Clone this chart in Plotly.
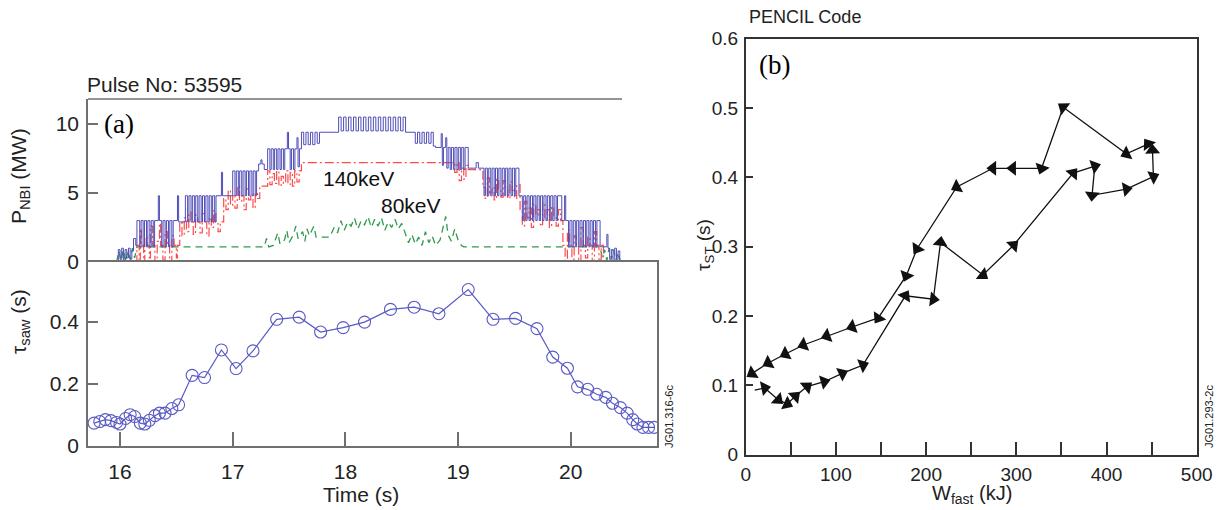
import plotly.graph_objects as go

# ---------------- Panel (a) top: NBI power (MW) vs time (s) ----------------
blue_pts = [
    (15.97, 0.0), (15.985, 0.9), (16.0, 0.2), (16.015, 1.0), (16.03, 0.1), (16.045, 0.9),
    (16.06, 0.3), (16.075, 1.0), (16.09, 0.2), (16.105, 0.8), (16.12, 1.7), (16.14, 1.2),
    (16.15, 3.0), (16.175, 1.1), (16.187, 3.0), (16.205, 1.1), (16.217, 3.0), (16.235, 1.1),
    (16.247, 3.0), (16.265, 1.1), (16.277, 3.0), (16.295, 1.1), (16.307, 3.0), (16.34, 4.8),
    (16.35, 3.0), (16.37, 1.1), (16.382, 3.0), (16.40, 1.1), (16.412, 3.0), (16.43, 1.1),
    (16.442, 3.0), (16.46, 1.1), (16.472, 3.0), (16.51, 4.8), (16.52, 2.9), (16.58, 4.8),
    (16.60, 2.9), (16.612, 4.8), (16.63, 2.9), (16.642, 4.8), (16.66, 2.9), (16.672, 4.8),
    (16.69, 2.9), (16.702, 4.8), (16.72, 2.9), (16.732, 4.8), (16.75, 2.9), (16.762, 4.8),
    (16.78, 2.9), (16.792, 4.8), (16.81, 2.9), (16.822, 4.8), (16.84, 2.9), (16.852, 4.8),
    (16.90, 6.5), (16.91, 4.8), (17.0, 6.6), (17.02, 4.8), (17.032, 6.6), (17.05, 4.8),
    (17.062, 6.6), (17.08, 4.8), (17.092, 6.6), (17.11, 4.8), (17.122, 6.6), (17.14, 4.8),
    (17.152, 6.6), (17.17, 4.8), (17.182, 6.6), (17.20, 4.8), (17.212, 6.6), (17.23, 7.1),
    (17.25, 7.4), (17.26, 7.1), (17.28, 6.7), (17.31, 8.2), (17.33, 6.7), (17.342, 8.2),
    (17.36, 6.7), (17.372, 8.2), (17.39, 6.7), (17.402, 8.2), (17.42, 6.7), (17.432, 8.2),
    (17.45, 6.7), (17.462, 8.2), (17.485, 9.4), (17.495, 8.2), (17.51, 6.7), (17.522, 8.2),
    (17.54, 6.7), (17.552, 8.2), (17.57, 9.0), (17.58, 6.9), (17.592, 8.2), (17.61, 9.4),
    (17.63, 8.5), (17.65, 9.4), (17.67, 8.5), (17.69, 9.4), (17.71, 8.5), (17.73, 9.4),
    (17.75, 8.6), (17.77, 9.4), (17.94, 10.5), (17.962, 9.5), (17.984, 10.5), (18.006, 9.5),
    (18.028, 10.5), (18.05, 9.5), (18.072, 10.5), (18.094, 9.5), (18.116, 10.5), (18.138, 9.5),
    (18.16, 10.5), (18.182, 9.5), (18.204, 10.5), (18.226, 9.5), (18.248, 10.5), (18.27, 9.5),
    (18.292, 10.5), (18.314, 9.5), (18.336, 10.5), (18.358, 9.5), (18.38, 10.5), (18.402, 9.5),
    (18.424, 10.5), (18.446, 9.5), (18.468, 10.5), (18.49, 9.5), (18.512, 10.5), (18.534, 9.4),
    (18.62, 8.6), (18.64, 9.4), (18.66, 8.6), (18.68, 9.4), (18.70, 8.6), (18.72, 9.4),
    (18.74, 8.6), (18.76, 9.4), (18.78, 8.4), (18.80, 8.3), (18.85, 9.3), (18.86, 7.0),
    (18.87, 8.3), (18.89, 9.0), (18.90, 6.8), (18.912, 8.3), (18.93, 6.7), (18.942, 8.3),
    (18.96, 6.7), (18.972, 8.3), (18.99, 6.7), (19.002, 8.3), (19.02, 6.7), (19.032, 8.3),
    (19.05, 6.7), (19.062, 8.3), (19.09, 6.8), (19.16, 7.2), (19.18, 6.8), (19.23, 4.8),
    (19.242, 6.8), (19.26, 4.8), (19.272, 6.8), (19.29, 4.8), (19.302, 6.8), (19.32, 4.8),
    (19.332, 6.8), (19.35, 4.8), (19.362, 6.8), (19.38, 4.8), (19.392, 6.8), (19.41, 4.8),
    (19.422, 6.8), (19.44, 4.8), (19.452, 6.8), (19.47, 4.8), (19.482, 6.8), (19.50, 4.8),
    (19.512, 6.8), (19.54, 4.8), (19.57, 3.0), (19.582, 4.8), (19.60, 3.0), (19.612, 4.8),
    (19.63, 3.0), (19.642, 4.8), (19.66, 3.0), (19.672, 4.8), (19.69, 3.0), (19.702, 4.8),
    (19.72, 3.0), (19.732, 4.8), (19.75, 3.0), (19.762, 4.8), (19.78, 3.0), (19.792, 4.8),
    (19.81, 3.0), (19.822, 4.8), (19.84, 3.0), (19.852, 4.8), (19.87, 3.0), (19.882, 4.8),
    (19.92, 3.0), (19.945, 4.8), (19.955, 3.0), (19.98, 1.1), (19.992, 3.0), (20.01, 1.1),
    (20.022, 3.0), (20.04, 1.1), (20.052, 3.0), (20.07, 1.1), (20.082, 3.0), (20.10, 1.1),
    (20.112, 3.0), (20.13, 1.1), (20.142, 3.0), (20.16, 1.1), (20.172, 3.0), (20.19, 1.1),
    (20.202, 3.0), (20.22, 1.1), (20.232, 3.0), (20.26, 1.1), (20.32, 2.0), (20.33, 1.0),
    (20.345, 0.2), (20.36, 0.9), (20.375, 0.1), (20.39, 1.0), (20.405, 0.2), (20.42, 0.8),
    (20.435, 0.0), (20.45, 0.0),
]

red_140kev_pts = [
    (16.13, 0.0), (16.15, 1.2), (16.17, 0.2), (16.18, 2.4), (16.19, 1.2), (16.21, 0.0),
    (16.22, 1.8), (16.24, 1.2), (16.26, 0.3), (16.27, 2.6), (16.29, 1.2), (16.31, 0.0),
    (16.33, 1.5), (16.35, 2.8), (16.36, 1.2), (16.38, 0.2), (16.40, 2.2), (16.42, 1.2),
    (16.44, 0.0), (16.46, 1.9), (16.48, 1.2), (16.50, 0.3), (16.51, 1.2), (16.53, 2.9),
    (16.55, 1.9), (16.57, 3.2), (16.59, 2.2), (16.61, 3.6), (16.63, 2.9), (16.65, 2.0),
    (16.67, 3.4), (16.69, 2.9), (16.71, 2.1), (16.73, 3.5), (16.75, 2.9), (16.77, 1.9),
    (16.79, 3.1), (16.81, 2.5), (16.83, 3.7), (16.85, 2.9), (16.87, 2.2), (16.89, 2.9),
    (16.92, 4.6), (16.94, 3.8), (16.96, 5.2), (16.98, 4.1), (17.00, 4.8), (17.02, 3.9),
    (17.04, 5.5), (17.06, 4.4), (17.08, 4.8), (17.10, 3.8), (17.12, 5.3), (17.14, 4.5),
    (17.16, 4.9), (17.18, 3.9), (17.20, 5.0), (17.22, 4.6), (17.24, 5.5), (17.31, 6.6),
    (17.33, 5.6), (17.35, 6.4), (17.37, 5.7), (17.39, 6.6), (17.41, 5.5), (17.43, 6.2),
    (17.45, 5.7), (17.47, 6.6), (17.49, 5.6), (17.51, 6.5), (17.53, 5.5), (17.55, 6.6),
    (17.57, 5.8), (17.59, 6.6), (17.61, 7.2), (18.97, 6.5), (18.99, 7.2), (19.01, 5.9),
    (19.03, 6.8), (19.05, 6.0), (19.07, 7.0), (19.09, 6.7), (19.22, 5.4), (19.24, 4.6),
    (19.26, 6.1), (19.28, 5.0), (19.30, 5.4), (19.32, 4.5), (19.34, 6.0), (19.36, 5.3),
    (19.38, 4.7), (19.40, 5.9), (19.42, 5.4), (19.44, 4.6), (19.46, 5.8), (19.48, 5.2),
    (19.50, 4.6), (19.52, 5.6), (19.55, 3.8), (19.57, 2.6), (19.59, 4.4), (19.61, 3.2),
    (19.63, 3.9), (19.65, 2.5), (19.67, 4.2), (19.69, 3.4), (19.71, 3.8), (19.73, 2.7),
    (19.75, 4.3), (19.77, 3.1), (19.79, 3.8), (19.81, 2.5), (19.83, 4.0), (19.85, 3.3),
    (19.87, 2.6), (19.89, 3.8), (19.91, 3.0), (19.93, 1.2), (19.95, 0.1), (19.97, 2.3),
    (19.99, 1.2), (20.01, 0.2), (20.03, 1.9), (20.05, 1.2), (20.07, 0.0), (20.09, 2.5),
    (20.11, 1.2), (20.13, 0.3), (20.15, 1.8), (20.17, 1.2), (20.19, 0.0), (20.21, 2.2),
    (20.23, 1.2), (20.25, 0.2), (20.27, 1.2), (20.29, 0.0), (20.30, 0.0),
]

green_80kev_pts = [
    (15.97, 0.0), (15.99, 0.8), (16.01, 0.1), (16.03, 0.9), (16.05, 0.0), (16.07, 0.8),
    (16.09, 0.2), (16.11, 1.0), (16.13, 0.3), (16.15, 1.1), (17.28, 1.1), (17.30, 1.7),
    (17.32, 1.1), (17.36, 1.2), (17.40, 2.1), (17.42, 1.3), (17.46, 1.6), (17.48, 2.3),
    (17.50, 1.4), (17.54, 2.0), (17.56, 2.6), (17.58, 1.7), (17.62, 2.2), (17.64, 1.5),
    (17.66, 2.4), (17.68, 1.9), (17.72, 2.6), (17.74, 1.8), (17.78, 1.8), (17.86, 1.8),
    (17.90, 2.5), (17.93, 2.1), (17.96, 3.0), (17.99, 2.3), (18.02, 2.9), (18.05, 2.6),
    (18.08, 3.2), (18.11, 2.4), (18.14, 3.0), (18.17, 2.7), (18.20, 3.3), (18.23, 2.5),
    (18.26, 3.1), (18.29, 2.6), (18.32, 3.2), (18.35, 2.3), (18.38, 2.9), (18.41, 2.5),
    (18.44, 3.1), (18.47, 2.4), (18.50, 2.8), (18.53, 2.1), (18.56, 1.4), (18.59, 2.0),
    (18.62, 1.3), (18.65, 1.8), (18.68, 1.2), (18.71, 2.2), (18.74, 1.4), (18.77, 1.9),
    (18.80, 1.2), (18.84, 1.6), (18.87, 2.6), (18.89, 3.3), (18.91, 2.0), (18.94, 1.5),
    (18.97, 2.4), (19.00, 1.6), (19.03, 1.2), (19.05, 1.1), (19.93, 1.1), (20.26, 1.1),
    (20.28, 0.3), (20.30, 0.9), (20.32, 0.1), (20.34, 1.0), (20.36, 0.2), (20.38, 0.9),
    (20.40, 0.1), (20.42, 0.7), (20.44, 0.0),
]

# ---------------- Panel (a) bottom: sawtooth period ----------------
saw_time = [15.77, 15.82, 15.87, 15.92, 15.97, 16.00, 16.05, 16.09, 16.13, 16.18, 16.22, 16.26,
            16.31, 16.35, 16.40, 16.46, 16.52, 16.64, 16.75, 16.90, 17.03, 17.18, 17.39, 17.59,
            17.78, 17.98, 18.17, 18.40, 18.61, 18.83, 19.09, 19.31, 19.51, 19.70, 19.84, 19.97,
            20.06, 20.15, 20.23, 20.31, 20.37, 20.44, 20.50, 20.55, 20.59, 20.64, 20.69, 20.74]
saw_tau = [0.074, 0.079, 0.085, 0.082, 0.076, 0.071, 0.089, 0.101, 0.095, 0.074, 0.071, 0.083,
           0.098, 0.106, 0.106, 0.121, 0.133, 0.228, 0.221, 0.310, 0.250, 0.307, 0.409, 0.416,
           0.368, 0.382, 0.400, 0.441, 0.448, 0.427, 0.505, 0.409, 0.412, 0.379, 0.287, 0.251,
           0.191, 0.183, 0.167, 0.157, 0.138, 0.124, 0.106, 0.085, 0.071, 0.060, 0.060, 0.060]

# ---------------- Panel (b): PENCIL code trajectory ----------------
w_fast = [10, 21, 36, 46, 55, 68, 87, 107, 130, 177, 208, 216, 263, 297, 363, 387, 384, 422,
          452, 451, 446, 422, 352, 328, 296, 274, 234, 190, 178, 147, 118, 90, 64, 44, 25, 7]
tau_st = [0.093, 0.096, 0.079, 0.073, 0.084, 0.098, 0.105, 0.117, 0.129, 0.229, 0.224, 0.306,
          0.259, 0.302, 0.406, 0.416, 0.374, 0.383, 0.401, 0.439, 0.448, 0.434, 0.501, 0.413,
          0.413, 0.413, 0.386, 0.297, 0.258, 0.197, 0.184, 0.171, 0.158, 0.145, 0.132, 0.117]

a_y_top_ticks = [0, 5, 10]
a_y_bot_ticks = [0, 0.2, 0.4]
a_y_bot_text = ["0", "0.2", "0.4"]
a_x_ticks = [16, 17, 18, 19, 20]
b_x_ticks = [0, 50, 100, 150, 200, 250, 300, 350, 400, 450, 500]
b_x_text = ["0", "", "100", "", "200", "", "300", "", "400", "", "500"]
b_y_ticks = [0, 0.1, 0.2, 0.3, 0.4, 0.5, 0.6]
b_y_text = ["0", "0.1", "0.2", "0.3", "0.4", "0.5", "0.6"]

W, H = 1218, 510
def px(x):
    return x / W
def py(y):
    return 1 - y / H

SANS = "Liberation Sans, Arial, sans-serif"
SERIF = "Liberation Serif, Times New Roman, serif"

fig = go.Figure()

bt, bp = zip(*blue_pts)
rt, rp = zip(*red_140kev_pts)
gt, gp = zip(*green_80kev_pts)

fig.add_trace(go.Scatter(x=gt, y=gp, mode="lines", line=dict(color="#2f9a4c", width=1.3, dash="7px,5px"),
                         xaxis="x", yaxis="y", showlegend=False))
fig.add_trace(go.Scatter(x=rt, y=rp, mode="lines", line=dict(color="#ff4a4a", width=1.2, shape="hv", dash="9px,3px,2px,3px"),
                         xaxis="x", yaxis="y", showlegend=False))
fig.add_trace(go.Scatter(x=bt, y=bp, mode="lines", line=dict(color="#4f4db8", width=1.0, shape="hv"),
                         xaxis="x", yaxis="y", showlegend=False))

fig.add_trace(go.Scatter(x=saw_time, y=saw_tau, mode="lines+markers",
                         line=dict(color="#5a5ac4", width=1.2),
                         marker=dict(symbol="circle-open", size=12, color="#5a5ac4", line=dict(width=1.1)),
                         xaxis="x2", yaxis="y2", showlegend=False))

fig.add_trace(go.Scatter(x=w_fast, y=tau_st, mode="lines+markers",
                         line=dict(color="#111", width=1.3),
                         marker=dict(symbol="triangle-up", size=13, color="#111", angleref="previous"),
                         xaxis="x3", yaxis="y3", showlegend=False))

xa = [px(88), px(657)]
AX_A = "#707070"
AX_B = "#333333"
tickfont_a = dict(family=SANS, size=21, color="#222")
tickfont_b = dict(family=SANS, size=19, color="#222")

common = dict(showgrid=False, zeroline=False, automargin=False)

fig.update_layout(
    template="none",
    width=W, height=H, margin=dict(l=0, r=0, t=0, b=0, pad=0, autoexpand=False),
    paper_bgcolor="white", plot_bgcolor="white",
    xaxis=dict(domain=xa, range=[15.716, 20.765], visible=False, anchor="y", **common),
    yaxis=dict(domain=[py(262), py(99)], range=[0, 11.81], anchor="x",
               showline=True, linecolor=AX_A, linewidth=1.5,
               ticks="inside", ticklen=10, tickcolor=AX_A, tickwidth=1.5,
               tickvals=a_y_top_ticks, tickfont=tickfont_a, ticklabelstandoff=3, **common),
    xaxis2=dict(domain=xa, range=[15.716, 20.765], anchor="y2",
                showline=True, mirror=True, linecolor=AX_A, linewidth=1.5,
                ticks="inside", ticklen=14, tickcolor=AX_A, tickwidth=1.5,
                tickvals=a_x_ticks, tickfont=tickfont_a, ticklabelstandoff=6, **common),
    yaxis2=dict(domain=[py(446), py(262)], range=[0, 0.594], anchor="x2",
                showline=True, mirror=True, linecolor=AX_A, linewidth=1.5,
                ticks="inside", ticklen=10, tickcolor=AX_A, tickwidth=1.5,
                tickvals=a_y_bot_ticks, ticktext=a_y_bot_text, tickfont=tickfont_a,
                ticklabelstandoff=3, **common),
    xaxis3=dict(domain=[px(745.7), px(1196.7)], range=[0, 500], anchor="y3",
                showline=True, mirror=True, linecolor=AX_B, linewidth=1.5,
                ticks="inside", ticklen=13, tickcolor=AX_B, tickwidth=1.5,
                tickvals=b_x_ticks, ticktext=b_x_text, tickfont=tickfont_b, ticklabelstandoff=2, **common),
    yaxis3=dict(domain=[py(454.5), py(38.7)], range=[0, 0.6], anchor="x3",
                showline=True, mirror=True, linecolor=AX_B, linewidth=1.5,
                ticks="inside", ticklen=8, tickcolor=AX_B, tickwidth=1.5,
                tickvals=b_y_ticks, ticktext=b_y_text, tickfont=tickfont_b, ticklabelstandoff=2, **common),
    shapes=[
        dict(type="line", xref="paper", yref="paper", x0=px(88), x1=px(622), y0=py(99), y1=py(99),
             line=dict(color=AX_A, width=1.5)),
    ],
)

def ann(text, x, y, size, family=SANS, angle=0, xanchor="center", color="#222"):
    fig.add_annotation(text=text, x=px(x), y=py(y), xref="paper", yref="paper", showarrow=False,
                       xanchor=xanchor, yanchor="middle", textangle=angle,
                       font=dict(family=family, size=size, color=color))

ann("Pulse No: 53595", 85, 85, 21, xanchor="left")
ann("PENCIL Code", 747, 17, 18, xanchor="left")
ann("(a)", 119, 124, 27, family=SERIF, color="#000")
ann("(b)", 774, 65, 27, family=SERIF, color="#000")
ann("140keV", 359, 178, 21, color="#111")
ann("80keV", 411, 205, 21, color="#111")
ann("P<sub>NBI</sub> (MW)", 20, 176, 21, angle=-90)
ann("τ<sub>saw</sub> (s)", 20, 322, 21, angle=-90)
ann("Time (s)", 361, 494, 21)
ann("τ<sub>ST</sub> (s)", 705, 245, 19, angle=-90)
ann("W<sub>fast</sub> (kJ)", 972, 494, 20)
ann("JG01.316-6c", 669, 417, 11, angle=-90)
ann("JG01.293-2c", 1209, 417, 11, angle=-90)

fig.write_html("out.html")
